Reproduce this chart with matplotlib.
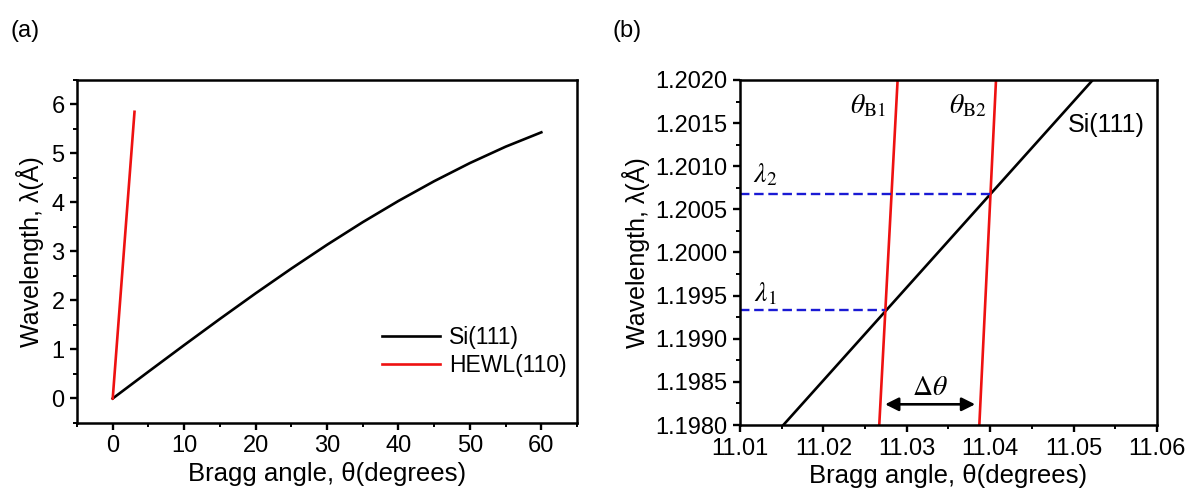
import matplotlib
matplotlib.use('Agg')
import matplotlib.pyplot as plt
from matplotlib.ticker import MultipleLocator, FormatStrFormatter

plt.rcParams['font.family'] = ['Liberation Sans', 'DejaVu Sans']
plt.rcParams['mathtext.fontset'] = 'stix'

# Panel (a): wavelength vs Bragg angle
si_theta = [0, 5, 10, 15, 20, 25, 30, 35, 40, 45, 50, 55, 60]
si_lambda = [0, 0.547, 1.089, 1.623, 2.145, 2.650, 3.136, 3.598, 4.031, 4.434, 4.804, 5.138, 5.431]
hewl_theta = [0, 1.0, 2.0, 3.05]
hewl_lambda = [0, 1.92, 3.84, 5.85]

# Panel (b): zoom around 1.2 A
si_b_theta = [11.0152, 11.0523]
si_b_lambda = [1.1980, 1.2020]
b1_theta = [11.0267, 11.0289]
b2_theta = [11.0387, 11.0407]
red_lambda = [1.1980, 1.2020]
lam1, lam2 = 1.19933, 1.20068
lam1_theta_end, lam2_theta_end = 11.0274, 11.0400
arrow_theta = [11.0274, 11.0382]
arrow_lambda = 1.19824

fig = plt.figure(figsize=(11.92, 4.95), dpi=100)
ax1 = fig.add_axes([0.0646, 0.1455, 0.4195, 0.693])
ax2 = fig.add_axes([0.6208, 0.1414, 0.3498, 0.697])

for ax in (ax1, ax2):
    for s in ax.spines.values():
        s.set_linewidth(1.8)
    ax.tick_params(which='major', direction='out', length=5, width=1.7, labelsize=17, pad=4)
    ax.tick_params(which='minor', direction='out', length=3, width=1.4)

# (a)
ax1.plot(si_theta, si_lambda, color='black', lw=1.9, label='Si(111)')
ax1.plot(hewl_theta, hewl_lambda, color='#ee1111', lw=1.9, label='HEWL(110)')
ax1.set_xlim(-5, 65)
ax1.set_ylim(-0.5, 6.5)
ax1.xaxis.set_major_locator(MultipleLocator(10))
ax1.xaxis.set_minor_locator(MultipleLocator(5))
ax1.yaxis.set_major_locator(MultipleLocator(1))
ax1.yaxis.set_minor_locator(MultipleLocator(0.5))
ax1.set_xlabel('Bragg angle, θ(degrees)', fontsize=18.5, labelpad=3)
ax1.set_ylabel('Wavelength, λ(Å)', fontsize=18, labelpad=5)
ax1.legend(loc='lower right', frameon=False, fontsize=16.5, handlelength=2.5,
           bbox_to_anchor=(1.02, 0.075), handletextpad=0.4, labelspacing=0.2)
fig.text(0.009, 0.937, '(a)', fontsize=17, va='center')

# (b)
ax2.plot(si_b_theta, si_b_lambda, color='black', lw=1.9)
ax2.plot(b1_theta, red_lambda, color='#ee1111', lw=1.9)
ax2.plot(b2_theta, red_lambda, color='#ee1111', lw=1.9)
ax2.plot([11.01, lam1_theta_end], [lam1, lam1], color='#1a1ad4', lw=1.7, ls=(0, (4, 2)))
ax2.plot([11.01, lam2_theta_end], [lam2, lam2], color='#1a1ad4', lw=1.7, ls=(0, (4, 2)))
ax2.annotate('', xy=(arrow_theta[0], arrow_lambda), xytext=(arrow_theta[1], arrow_lambda),
             arrowprops=dict(arrowstyle='<|-|>', color='black', lw=1.9,
                             mutation_scale=20, shrinkA=0, shrinkB=0))
ax2.text(11.0328, 1.19843, r'$\Delta\theta$', fontsize=20, ha='center', va='center')
ax2.text(11.0254, 1.2017, r'$\theta_{\mathrm{B1}}$', fontsize=20, ha='center', va='center')
ax2.text(11.0373, 1.2017, r'$\theta_{\mathrm{B2}}$', fontsize=20, ha='center', va='center')
ax2.text(11.0539, 1.20148, 'Si(111)', fontsize=18, ha='center', va='center')
ax2.text(11.0130, 1.2009, r'$\lambda_2$', fontsize=20, ha='center', va='center')
ax2.text(11.0130, 1.19952, r'$\lambda_1$', fontsize=20, ha='center', va='center')
ax2.set_xlim(11.01, 11.06)
ax2.set_ylim(1.198, 1.202)
ax2.xaxis.set_major_locator(MultipleLocator(0.01))
ax2.xaxis.set_minor_locator(MultipleLocator(0.005))
ax2.yaxis.set_major_locator(MultipleLocator(0.0005))
ax2.yaxis.set_minor_locator(MultipleLocator(0.00025))
ax2.xaxis.set_major_formatter(FormatStrFormatter('%.2f'))
ax2.yaxis.set_major_formatter(FormatStrFormatter('%.4f'))
ax2.set_xlabel('Bragg angle, θ(degrees)', fontsize=18.5, labelpad=3)
ax2.set_ylabel('Wavelength, λ(Å)', fontsize=18, labelpad=4)
fig.text(0.514, 0.937, '(b)', fontsize=17, va='center')

fig.savefig('out.png', dpi=100)
